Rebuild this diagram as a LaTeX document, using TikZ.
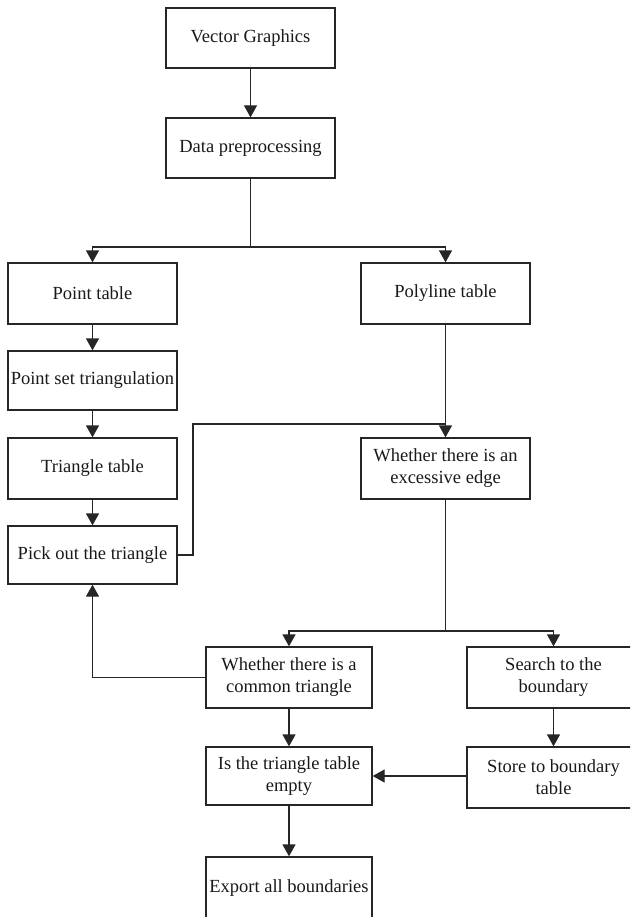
\documentclass[tikz,border=0pt]{standalone}
\usepackage{fontspec}
\setmainfont{Liberation Serif}
\usetikzlibrary{arrows.meta,positioning,calc}
\tikzset{
    >={Triangle[width=13pt,length=12pt]},
    flowbox/.style={
        rectangle,
        draw=black!85, line width=1.3pt,
        minimum width=169pt,
        minimum height=60pt,
        inner sep=1pt,
        align=center,
        text=black!90,
        font={\fontsize{18.5pt}{22pt}\selectfont},
    },
    line/.style={draw=black!85, line width=1.3pt},
}

\begin{document}
\begin{tikzpicture}[x=1pt, y=-1pt]
\useasboundingbox (0,0) rectangle (630,917);
\clip (0,0) rectangle (630,917);

% top
\node [flowbox] (vg) at (250.5,38) {Vector Graphics};
\node [flowbox] (dp) at (250.5,148) {Data preprocessing};

% left column
\node [flowbox, minimum height=61pt] (pt) at (92.5,293.5) {Point table};
\node [flowbox, minimum height=59pt] (pst) at (92.5,380.5) {Point set triangulation};
\node [flowbox, minimum height=61pt] (tt) at (92.5,468.5) {Triangle table};
\node [flowbox, minimum height=58pt] (po) at (92.5,555) {Pick out the triangle};

% right column
\node [flowbox, minimum height=61pt] (pl) at (445.5,293.5) {Polyline table};
\node [flowbox, minimum height=61pt] (ee) at (445.5,468.5) {Whether there is an\\excessive edge};

% lower part
\node [flowbox, minimum width=166pt, minimum height=61pt] (ct) at (289,677.5) {Whether there is a\\common triangle};
\node [flowbox, minimum width=173pt, minimum height=61pt] (sb) at (553.5,677.5) {Search to the\\boundary};
\node [flowbox, minimum width=166pt, minimum height=58pt] (ie) at (289,776) {Is the triangle table\\empty};
\node [flowbox, minimum width=173pt, minimum height=61pt] (sbt) at (553.5,777.5) {Store to boundary\\table};
\node [flowbox, minimum width=166pt, minimum height=63pt] (ex) at (289,888.5) {Export all boundaries};

\coordinate (split-top) at (250.5,247);
\coordinate (fb-corner) at (193,424);
\coordinate (join-fb) at (445.5,424);
\coordinate (split-bot) at (445.5,631);

\draw [line, ->] (vg) -- (dp);
\draw [line] (dp) -- (split-top);
\draw [line, ->] (split-top) -| (pt);
\draw [line, ->] (split-top) -| (pl);

\foreach \a/\b in {pt/pst, pst/tt, tt/po}
  \draw [line, ->] (\a) -- (\b);

\draw [line, ->] (pl) -- (ee);
\draw [line] (po.east) -| (fb-corner) -- (join-fb);

\draw [line] (ee) -- (split-bot);
\draw [line, ->] (split-bot) -| (ct);
\draw [line, ->] (split-bot) -| (sb);

\draw [line, ->] (ct.west) -| (po.south);
\draw [line, ->] (ct) -- (ie);
\draw [line, ->] (sb) -- (sbt);
\draw [line, ->] (sbt.west |- ie.east) -- (ie.east);
\draw [line, ->] (ie) -- (ex);

\end{tikzpicture}
\end{document}
